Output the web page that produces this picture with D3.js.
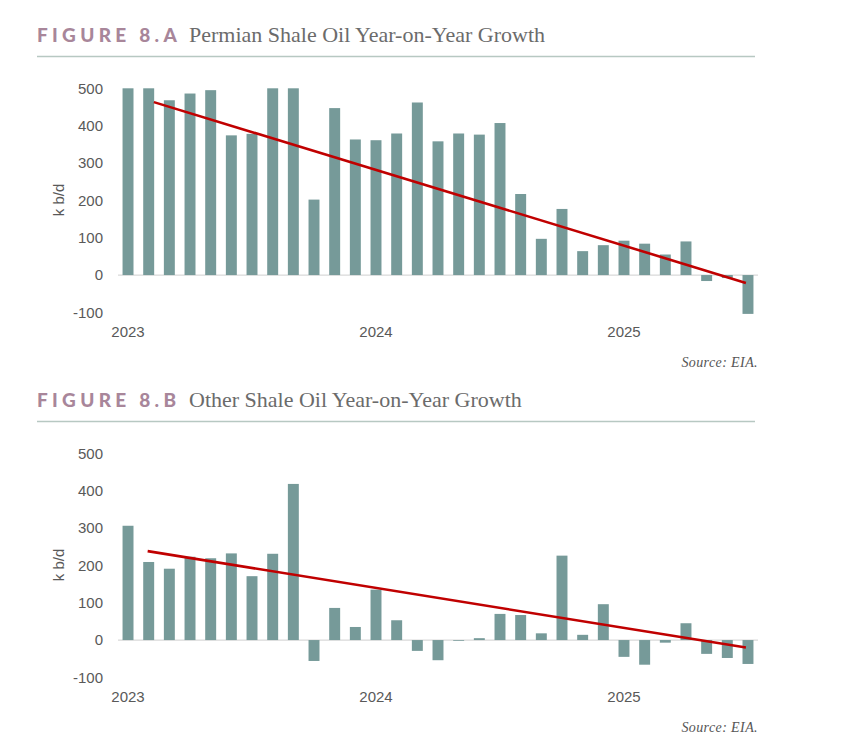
<!DOCTYPE html>
<html>
<head>
<meta charset="utf-8">
<script src="https://cdn.jsdelivr.net/npm/d3@7"></script>
<style>
  body { margin: 0; background: #fff; }
</style>
</head>
<body>
<div id="chart"></div>
<script>
// monthly categories, Jan 2023 - Jul 2025
var months = [
  "2023-01", "2023-02", "2023-03", "2023-04", "2023-05", "2023-06", "2023-07", "2023-08", "2023-09", "2023-10", "2023-11", "2023-12",
  "2024-01", "2024-02", "2024-03", "2024-04", "2024-05", "2024-06", "2024-07", "2024-08", "2024-09", "2024-10", "2024-11", "2024-12",
  "2025-01", "2025-02", "2025-03", "2025-04", "2025-05", "2025-06", "2025-07"
];

// year-on-year growth, kb/d
var permian = [500, 500, 468, 486, 495, 374, 378, 500, 500, 202, 447, 363,
               361, 379, 462, 358, 379, 376, 407, 217, 97, 177, 64, 80,
               92, 84, 55, 90, -16, -8, -104];
var otherShale = [306, 209, 191, 223, 219, 232, 171, 231, 418, -56, 86, 35,
                  135, 53, -29, -54, -2, 5, 70, 67, 18, 226, 14, 96,
                  -45, -66, -7, 45, -37, -48, -64];

// linear trend end points: [month index, value]
var permianTrend = [[1.25, 463], [29.9, -21]];
var otherTrend = [[0.95, 238], [29.9, -20]];

var yTicks = [-100, 0, 100, 200, 300, 400, 500];
var yearTicks = ["2023-01", "2024-01", "2025-01"];

var svgWidth = 864;
var svgHeight = 738;

var svg = d3.select("#chart")
  .append("svg")
  .attr("width", svgWidth)
  .attr("height", svgHeight);

var x = d3.scaleBand()
  .domain(months)
  .range([118, 758])
  .paddingInner(0.47)
  .paddingOuter(0.22);

// month index -> bar centre, for the trend line
var xi = d3.scaleLinear()
  .domain([0, months.length - 1])
  .range([x(months[0]) + x.bandwidth() / 2, x(months[months.length - 1]) + x.bandwidth() / 2]);

var y = d3.scaleLinear()
  .domain([-100, 500])
  .range([312.4, 88.3]);

function drawPanel(offsetY, figLabel, title, values, trend) {
  var g = svg.append("g")
    .attr("transform", `translate(0, ${offsetY})`);

  // title
  g.append("text")
    .attr("x", 37)
    .attr("y", 42)
    .attr("font-family", "Lato, 'Open Sans', sans-serif")
    .attr("font-weight", "900")
    .attr("font-size", 19)
    .attr("letter-spacing", 4.3)
    .attr("fill", "#a8869a")
    .text(figLabel);

  g.append("text")
    .attr("x", 189)
    .attr("y", 42)
    .attr("font-family", "'Liberation Serif', serif")
    .attr("font-size", 22)
    .attr("fill", "#6b6b6b")
    .text(title);

  g.append("line")
    .attr("x1", 37)
    .attr("x2", 755)
    .attr("y1", 56.5)
    .attr("y2", 56.5)
    .attr("stroke", "#b7c8c2")
    .attr("stroke-width", 1.5);

  // zero line
  g.append("line")
    .attr("x1", 118)
    .attr("x2", 758)
    .attr("y1", y(0))
    .attr("y2", y(0))
    .attr("stroke", "#d9d9d9")
    .attr("stroke-width", 1.2);

  // bars
  g.selectAll("rect.bar")
    .data(values)
    .enter()
    .append("rect")
    .attr("class", "bar")
    .attr("x", (d, i) => x(months[i]))
    .attr("width", x.bandwidth())
    .attr("y", d => y(Math.max(0, d)))
    .attr("height", d => Math.abs(y(d) - y(0)))
    .attr("fill", "#769a99");

  // trend
  var line = d3.line()
    .x(d => xi(d[0]))
    .y(d => y(d[1]));

  g.append("path")
    .datum(trend)
    .attr("d", line)
    .attr("fill", "none")
    .attr("stroke", "#c00000")
    .attr("stroke-width", 2.6);

  // axes
  var leftAxis = d3.axisLeft(y)
    .tickValues(yTicks)
    .tickSize(0)
    .tickPadding(3)
    .tickFormat(d => String(d));

  var bottomAxis = d3.axisBottom(x)
    .tickValues(yearTicks)
    .tickSize(0)
    .tickPadding(2)
    .tickFormat(d => d.slice(0, 4));

  var ya = g.append("g")
    .attr("transform", "translate(106, 0)")
    .call(leftAxis);

  var xa = g.append("g")
    .attr("transform", "translate(0, 324)")
    .call(bottomAxis);

  [ya, xa].forEach(a => {
    a.select(".domain").remove();
    a.selectAll("text")
      .attr("font-family", "'Liberation Sans', Arial, sans-serif")
      .attr("font-size", 15)
      .attr("fill", "#595959");
  });

  g.append("text")
    .attr("transform", "translate(64, 200) rotate(-90)")
    .attr("text-anchor", "middle")
    .attr("font-family", "'Liberation Sans', Arial, sans-serif")
    .attr("font-size", 15)
    .attr("fill", "#595959")
    .text("k b/d");

  g.append("text")
    .attr("x", 758)
    .attr("y", 367)
    .attr("text-anchor", "end")
    .attr("font-family", "'Liberation Serif', serif")
    .attr("font-style", "italic")
    .attr("font-size", 14)
    .attr("letter-spacing", 0.4)
    .attr("fill", "#555")
    .text("Source: EIA.");
}

drawPanel(0, "FIGURE 8.A", "Permian Shale Oil Year-on-Year Growth", permian, permianTrend);
drawPanel(365, "FIGURE 8.B", "Other Shale Oil Year-on-Year Growth", otherShale, otherTrend);
</script>
</body>
</html>
